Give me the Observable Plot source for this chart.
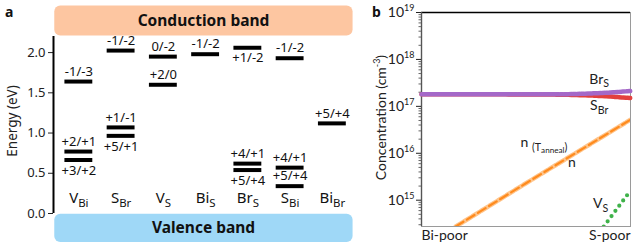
<!DOCTYPE html>
<html><head><meta charset="utf-8">
<script src="https://cdn.jsdelivr.net/npm/d3@7"></script>
<script src="https://cdn.jsdelivr.net/npm/@observablehq/plot@0.6"></script>
<style>
html,body{margin:0;padding:0;background:#fff;}
#wrap{position:relative;width:634px;height:248px;overflow:hidden;}
#pa{position:absolute;left:0;top:0;}
#pb{position:absolute;left:370px;top:0;}
#pa g[aria-label="y-axis tick label"]{font-size:13px !important;}
#pb g[aria-label="y-axis tick label"]{font-size:14px !important;}
.plab{position:absolute;font:bold 14px "Noto Sans",sans-serif;color:#111;line-height:14px;}
</style></head><body>
<div id="wrap"><div id="pa"></div><div id="pb"></div>
<div class="plab" style="left:5px;top:5px">a</div>
<div class="plab" style="left:372px;top:5px">b</div></div>
<script>
// ---------- panel a data ----------
const defects = ["V_{Bi}","S_{Br}","V_{S}","Bi_{S}","Br_{S}","S_{Bi}","Bi_{Br}"];
const levelDefect = [0,0,0,1,1,1,2,2,3,4,4,4,5,5,5,6];
const levelEnergy = [1.64,0.77,0.665,2.025,1.07,0.965,1.95,1.60,1.98,2.06,0.62,0.54,1.93,0.57,0.34,1.12];
const levelLabel = ["-1/-3","+2/+1","+3/+2","-1/-2","+1/-1","+5/+1","0/-2","+2/0","-1/-2","+1/-2","+4/+1","+5/+4","-1/-2","+4/+1","+5/+4","+5/+4"];
const levelSide = ["above","above","below","above","above","below","above","above","above","below","above","below","above","above","above","above"];
const bandNames = ["Conduction band","Valence band"];
const bandTop = [2.58, -0.008];
const bandBottom = [2.206, -0.36];
const bandFill = ["#fdc6a1","#9fd8f7"];
const energyTicks = [0,0.5,1,1.5,2];
const energyLabel = "Energy (eV)";
const categoryRowEnergy = 0.19;

// ---------- panel b data ----------
const sweepX = [0,0.2,0.4,0.6,0.7,0.8,0.9,1];
const brS = [1.8e17,1.8e17,1.8e17,1.8e17,1.82e17,1.87e17,1.96e17,2.12e17];
const sBr = [1.8e17,1.8e17,1.8e17,1.79e17,1.76e17,1.71e17,1.62e17,1.5e17];
const nX = [0.164,0.5,1];
const nVal = [2.75e14,2.3e15,5.2e16];
const nAnnealVal = [2.75e14,2.3e15,5.2e16];
const vsX = [0.872,1];
const vsVal = [2.75e14,1.6e15];
const concTicks = [1e15,1e16,1e17,1e18,1e19];
const concDomain = [2.75e14,1e19];
const concLabel = "Concentration (cm^{-3})";
const xEndLabels = ["Bi-poor","S-poor"];
const curveLabels = [
  {x:0.85, y:3.8e17, t:"Br_{S}"},
  {x:0.85, y:1.05e17, t:"S_{Br}"},
  {x:0.72, y:6.4e15, t:"n"},
  {x:0.857, y:8.3e14, t:"V_{S}"}
];
const annealLabel = [{x:0.474, y:1.7e16, t:"n _{(T}~{anneal}_{)}"}];

// ---------- rich text helper ----------
function richify(svg){
  d3.select(svg).selectAll("text").each(function(){
    const t = this.textContent;
    if(!/[_^~]\{/.test(t)) return;
    const fs = parseFloat(getComputedStyle(this).fontSize) || 12;
    const segs = []; let last = 0; const re = /([_^~])\{([^}]*)\}/g; let m;
    while((m = re.exec(t))){ if(m.index>last) segs.push([t.slice(last,m.index),0]);
      segs.push([m[2], m[1]==="^"?1:m[1]==="_"?-1:-2]); last = re.lastIndex; }
    if(last<t.length) segs.push([t.slice(last),0]);
    while(this.firstChild) this.removeChild(this.firstChild);
    let cur = 0;
    for(const [s,l] of segs){
      const off = l===0?0: l===1? -0.42*fs : l===-1? 0.27*fs : 0.45*fs;
      const size = l===0?fs: l===1?0.64*fs: l===-1?0.76*fs:0.58*fs;
      const ts = document.createElementNS("http://www.w3.org/2000/svg","tspan");
      ts.textContent = s; ts.setAttribute("dy", (off-cur)+"px"); ts.setAttribute("font-size", size+"px");
      this.appendChild(ts); cur = off;
    }
  });
}

// ---------- panel a ----------
const levels = levelEnergy.map((e,k)=>({i:levelDefect[k], e, label:levelLabel[k], side:levelSide[k]}));
const bands = bandNames.map((n,k)=>({name:n, y1:bandBottom[k], y2:bandTop[k]}));
const cats = defects.map((d,i)=>({i, name:d}));
const xDom = [-0.6, 6.5];
const A = Plot.plot({
  width:370, height:248, marginLeft:53, marginRight:17, marginTop:36, marginBottom:35,
  style:{fontFamily:'"Noto Sans",sans-serif', fontSize:"13px", color:"#222", background:"transparent", overflow:"visible"},
  x:{domain:xDom, axis:null},
  y:{domain:[0,2.2]},
  marks:[
    Plot.rect([bands[0]],{x1:()=>xDom[0]+0.03,x2:()=>xDom[1]-0.01,y1:"y1",y2:"y2",fill:bandFill[0],rx:6}),
    Plot.rect([bands[1]],{x1:()=>xDom[0]+0.03,x2:()=>xDom[1]-0.01,y1:"y1",y2:"y2",fill:bandFill[1],rx:6}),
    Plot.text(bands,{x:()=>(xDom[0]+xDom[1])/2, y:d=>(d.y1+d.y2)/2, text:"name", fontWeight:"bold", fontSize:15.5, fill:"#111"}),
    Plot.axisY({ticks:energyTicks, tickFormat:d3.format(".1f"), tickSize:5, tickPadding:3, label:null, fontSize:13}),
    Plot.text([energyLabel],{frameAnchor:"left", text:d=>d, rotate:-90, textAnchor:"middle", dx:-41, dy:-4, fontSize:13.5, fill:"#222"}),
    Plot.ruleX([xDom[0]],{y1:0,y2:2.2, stroke:"#000", strokeWidth:2}),
    Plot.ruleY(levels,{y:"e", x1:d=>d.i-0.33, x2:d=>d.i+0.33, stroke:"#000", strokeWidth:4}),
    Plot.text(levels.filter(d=>d.side==="above"),{x:"i",y:"e",text:"label",dy:-10,fontSize:13,fill:"#111"}),
    Plot.text(levels.filter(d=>d.side==="below"),{x:"i",y:"e",text:"label",dy:10.5,fontSize:13,fill:"#111"}),
    Plot.text(cats,{x:"i",y:()=>categoryRowEnergy,text:"name",fontSize:15,fill:"#111"})
  ]
});
document.getElementById("pa").appendChild(A);
richify(A);

// ---------- panel b ----------
const brData = sweepX.map((x,k)=>({x, v:brS[k]}));
const sbData = sweepX.map((x,k)=>({x, v:sBr[k]}));
const nData = nX.map((x,k)=>({x, v:nVal[k]}));
const naData = nX.map((x,k)=>({x, v:nAnnealVal[k]}));
const vsData = vsX.map((x,k)=>({x, v:vsVal[k]}));
const minor = [];
for(let e=14;e<19;e++) for(let m=2;m<10;m++){ const v=m*Math.pow(10,e); if(v>=concDomain[0]&&v<=concDomain[1]) minor.push(v); }
const B = Plot.plot({
  width:264, height:248, marginLeft:51, marginRight:4, marginTop:12, marginBottom:22,
  style:{fontFamily:'Lato,"Open Sans",sans-serif', fontSize:"14px", color:"#222", background:"transparent", overflow:"visible"},
  x:{domain:[0,1], axis:null},
  y:{type:"log", domain:concDomain},
  marks:[
    Plot.frame({stroke:"#9a9a9a"}),
    Plot.ruleY([concDomain[1]],{stroke:"#000", strokeWidth:1.6}),
    Plot.ruleX([0],{stroke:"#555", strokeWidth:1.4}),
    Plot.axisY({ticks:minor, tickSize:2.5, tickFormat:()=>"", label:null, stroke:"#666"}),
    Plot.axisY({ticks:concTicks, tickFormat:d=>`10^{${Math.round(Math.log10(d))}}`, tickSize:5, tickPadding:2, label:null, fontSize:14}),
    Plot.text([concLabel],{frameAnchor:"left", text:d=>d, rotate:-90, textAnchor:"middle", dx:-40, dy:-2, fontSize:14, fill:"#222"}),
    Plot.line(sbData,{x:"x",y:"v",stroke:"#e3403e",strokeWidth:4.5,strokeDasharray:"3,1.2"}),
    Plot.line(brData,{x:"x",y:"v",stroke:"#a468c8",strokeWidth:4.5,strokeDasharray:"3,1.2"}),
    Plot.line(naData,{x:"x",y:"v",stroke:"#ffc48a",strokeWidth:4.5,strokeDasharray:"8,2",clip:true}),
    Plot.line(nData,{x:"x",y:"v",stroke:"#ff8b1e",strokeWidth:2.2,strokeDasharray:"9,4",clip:true}),
    Plot.line(vsData,{x:"x",y:"v",stroke:"#3fb24a",strokeWidth:4.2,strokeDasharray:"0,6.5",strokeLinecap:"round",clip:true}),
    Plot.text(curveLabels,{x:"x",y:"y",text:"t",fontSize:14,fill:"#222"}),
    Plot.text(annealLabel,{x:"x",y:"y",text:"t",fontSize:14,fill:"#222",textAnchor:"start"}),
    Plot.text([xEndLabels[0]],{x:()=>0,frameAnchor:"bottom",text:d=>d,dy:13,textAnchor:"start",fontSize:14,fill:"#222"}),
    Plot.text([xEndLabels[1]],{x:()=>1,frameAnchor:"bottom",text:d=>d,dy:13,textAnchor:"end",fontSize:14,fill:"#222"})
  ]
});
document.getElementById("pb").appendChild(B);
richify(B);
</script>
</body></html>
